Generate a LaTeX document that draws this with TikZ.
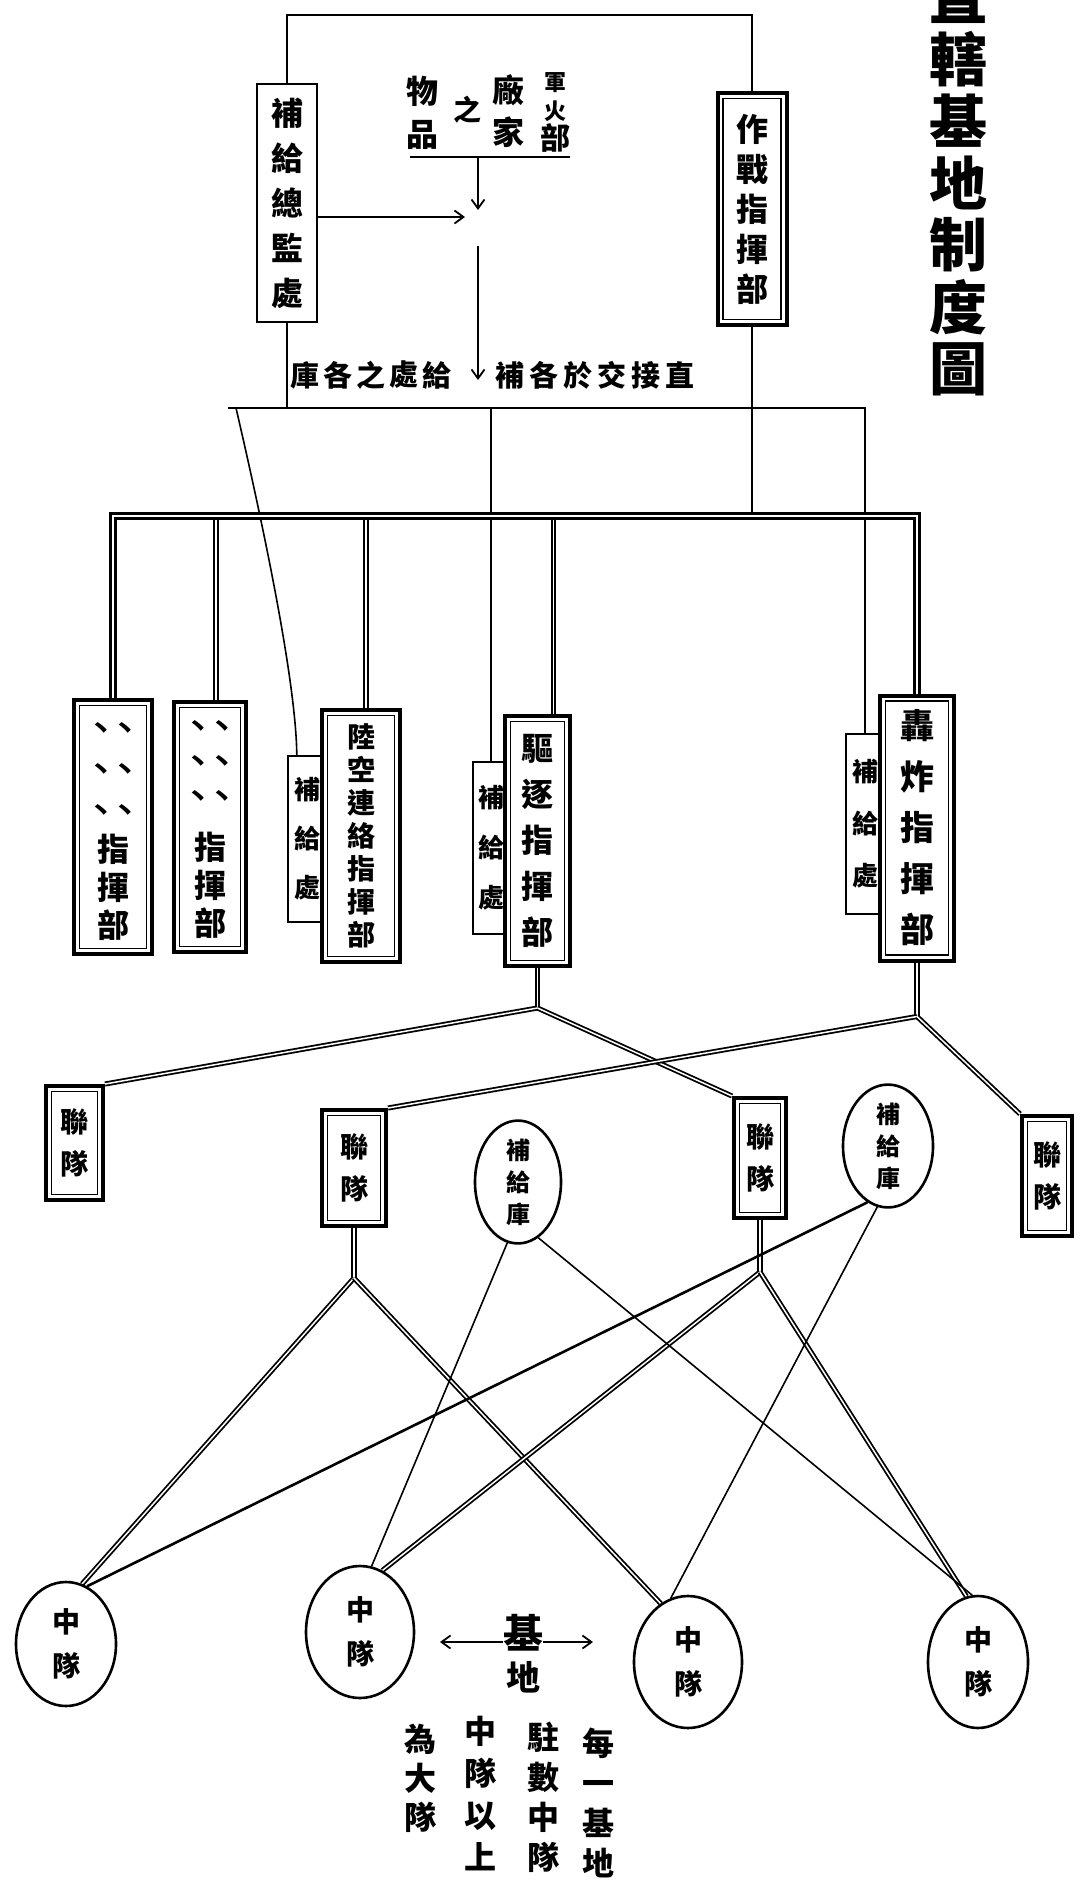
\documentclass[tikz,border=0pt]{standalone}
\usepackage{fontspec}
\newfontfamily\cjk{Noto Sans CJK TC}
\usetikzlibrary{shapes.geometric,arrows.meta,backgrounds}

\tikzset{
  zh/.style 2 args={font=\cjk\bfseries\fontsize{#1}{#2}\selectfont, align=center, inner sep=0pt},
  cmdbox/.style={draw, fill=white, line width=4pt, inner sep=0pt,
    path picture={\draw[line width=1.3pt]
      ([shift={(5.5pt,-5.5pt)}]path picture bounding box.north west) rectangle
      ([shift={(-5.5pt,5.5pt)}]path picture bounding box.south east);}},
  supbox/.style={draw, fill=white, line width=2.4pt, inner sep=0pt},
  roundnode/.style={draw, fill=white, ellipse, line width=2.6pt, inner sep=0pt},
  link/.style={line width=1.6pt},
  heavy/.style={line width=2.6pt},
  dbl/.style={double, line width=1.8pt, double distance=1.5pt},
  bar/.style={double, line width=3.4pt, double distance=1.2pt},
  arr/.style={line width=1.8pt, -{Straight Barb[length=9pt,width=13pt]}},
}

\begin{document}
\begin{tikzpicture}[x=1pt,y=-1pt]
\path[use as bounding box] (0,0) rectangle (1081,1882);
\clip (0,0) rectangle (1081,1882);

% title column
\foreach \c [count=\i from 0] in {直,轄,基,地,制,度,圖}
  \node[zh={58}{58}] (title\i) at (958,{-3+62*\i}) {\c};

% headquarters
\node[supbox, minimum width=60pt, minimum height=238pt, zh={32}{45}] (supHQ) at (287,203) {補\\給\\總\\監\\處};
\node[cmdbox, minimum width=69pt, minimum height=232pt, zh={32}{40}] (opHQ) at (752,209) {作\\戰\\指\\揮\\部};

% goods from munitions makers
\node[zh={32}{43}] (wupin) at (422,113) {物\\品};
\node[zh={28}{28}] (zhi) at (467,110) {之};
\node[zh={32}{42}] (changjia) at (508,111) {廠\\家};
\node[zh={22}{22}] (jun) at (555,83) {軍};
\node[zh={22}{22}] (huo) at (555,111) {火};
\node[zh={30}{30}] (bu) at (555,138) {部};

% delivery note
\foreach \c [count=\i from 0] in {庫,各,之,處,給}
  \node[zh={29}{29}] (rl\i) at ({305+33*\i},375) {\c};
\foreach \c [count=\i from 0] in {補,各,於,交,接,直}
  \node[zh={29}{29}] (rr\i) at ({510+34*\i},375) {\c};

% command posts and their supply offices
\node[cmdbox, minimum width=78pt, minimum height=254pt] (cmdA) at (113,827) {};
\foreach \y [count=\i] in {730,771,812}
  \node[zh={24}{24}] (dA\i) at (113,\y) {丶丶};
\node[zh={32}{38}] (tA) at (113,887) {指\\揮\\部};

\node[cmdbox, minimum width=72pt, minimum height=250pt] (cmdB) at (210,827) {};
\foreach \y [count=\i] in {728,763,798}
  \node[zh={24}{24}] (dB\i) at (210,\y) {丶丶};
\node[zh={32}{38}] (tB) at (210,885) {指\\揮\\部};

\node[supbox, minimum width=38pt, minimum height=166pt, zh={26}{49}] (supA) at (307,839) {補\\給\\處};
\node[cmdbox, minimum width=78pt, minimum height=252pt, zh={28}{33}] (cmdC) at (361,836) {陸\\空\\連\\絡\\指\\揮\\部};

\node[supbox, minimum width=36pt, minimum height=172pt, zh={26}{50}] (supB) at (491,848) {補\\給\\處};
\node[cmdbox, minimum width=65pt, minimum height=250pt, zh={32}{46}] (cmdD) at (537.5,841) {驅\\逐\\指\\揮\\部};

\node[supbox, minimum width=38pt, minimum height=180pt, zh={26}{52}] (supC) at (865,824) {補\\給\\處};
\node[cmdbox, minimum width=74pt, minimum height=265pt, zh={34}{51}] (cmdE) at (917,828) {轟\\炸\\指\\揮\\部};

% regiments
\node[cmdbox, minimum width=57pt, minimum height=114pt, zh={28}{42}] (regA) at (74.5,1143) {聯\\隊};
\node[cmdbox, minimum width=64pt, minimum height=116pt, zh={28}{42}] (regB) at (354,1168) {聯\\隊};
\node[cmdbox, minimum width=52pt, minimum height=120pt, zh={28}{42}] (regC) at (760,1158) {聯\\隊};
\node[cmdbox, minimum width=50pt, minimum height=120pt, zh={28}{42}] (regD) at (1047,1176) {聯\\隊};

% supply depots
\node[roundnode, minimum width=86pt, minimum height=120pt, zh={24}{32}] (depE) at (518,1182) {補\\給\\庫};
\node[roundnode, minimum width=90pt, minimum height=120pt, zh={24}{32}] (depF) at (888,1146) {補\\給\\庫};

% squadrons
\node[roundnode, minimum width=100pt, minimum height=124pt, zh={28}{44}] (sqG) at (66,1644) {中\\隊};
\node[roundnode, minimum width=108pt, minimum height=132pt, zh={28}{44}] (sqH) at (360,1632) {中\\隊};
\node[roundnode, minimum width=108pt, minimum height=132pt, zh={28}{44}] (sqI) at (688,1662) {中\\隊};
\node[roundnode, minimum width=100pt, minimum height=132pt, zh={28}{44}] (sqK) at (978,1662) {中\\隊};

% base
\node[zh={40}{40}] (ji) at (523,1633) {基};
\node[zh={34}{34}] (di) at (523,1677) {地};

% note at the foot
\node[zh={32}{40}] (noteA) at (598,1803) {每\\一\\基\\地};
\node[zh={32}{40}] (noteB) at (543,1797) {駐\\數\\中\\隊};
\node[zh={32}{42}] (noteC) at (480,1794) {中\\隊\\以\\上};
\node[zh={32}{39}] (noteD) at (420,1778) {為\\大\\隊};

% coordinates for the free ends of lines
\coordinate (topY) at (0,15);
\coordinate (ul0) at (410,157);
\coordinate (ul1) at (570,157);
\coordinate (ulA) at (478,157);
\coordinate (tip1) at (478,210);
\coordinate (tip2) at (465,217);
\coordinate (lA) at (478,246);
\coordinate (lB) at (478,380);
\coordinate (hl0) at (228,408);
\coordinate (sl0) at (236,408);
\coordinate (barY) at (500,516);
\coordinate (bB) at ([xshift=6pt]cmdB.north);
\coordinate (bC) at ([xshift=5pt]cmdC.north);
\coordinate (bD) at ([xshift=16pt]cmdD.north);
\coordinate (J1) at ([yshift=-40pt]cmdD.south);
\coordinate (J2) at ([yshift=-54pt]cmdE.south);
\coordinate (J3) at ([yshift=-50pt]regB.south);
\coordinate (J4) at ([yshift=-52pt]regC.south);
\coordinate (baseL) at (440,1642);
\coordinate (baseR) at (593,1642);

\begin{scope}[on background layer]
  \fill[white] (0,0) rectangle (1081,1882);
  % upper frame
  \draw[heavy] (supHQ.north) -- (supHQ.north |- topY) -- (opHQ.north |- topY) -- (opHQ.north);
  \draw[link] (ul0) -- (ul1);
  \draw[arr] (ulA) -- (tip1);
  \draw[arr] ([yshift=-14pt]supHQ.east) -- (tip2);
  \draw[arr] (lA) -- (lB);
  % supply distribution line
  \draw[link] (supHQ.south) -- (supHQ.south |- hl0);
  \draw[link] (hl0) -| (supC.north);
  \draw[link] (supB.north |- hl0) -- (supB.north);
  \draw[link] (sl0) .. controls (262,520) and (296,680) .. ([xshift=10pt]supA.north west);
  % command bar
  \draw[link] (opHQ.south) -- (opHQ.south |- barY);
  \draw[dbl] (bB) -- (bB |- barY);
  \draw[dbl] (bC) -- (bC |- barY);
  \draw[dbl] (bD) -- (bD |- barY);
  \draw[bar] (cmdA.north) |- (barY) -| (cmdE.north);
  % regiments
  \draw[dbl] (cmdD.south) -- (J1);
  \draw[dbl] (cmdE.south) -- (J2);
  \draw[dbl] (J1) -- (regA.north east);
  \draw[dbl] (J1) -- (regC.north west);
  \draw[dbl] (J2) -- (regB.north east);
  \draw[dbl] (J2) -- (regD.north west);
  % squadrons
  \draw[dbl] (regB.south) -- (J3);
  \draw[dbl] (regC.south) -- (J4);
  \draw[dbl] (J3) -- (sqG.75);
  \draw[dbl] (J3) -- (sqI.115);
  \draw[dbl] (J4) -- (sqH.70);
  \draw[dbl] (J4) -- (sqK.100);
  % supply depots to squadrons
  \draw[link] (depE.260) -- (sqH.80);
  \draw[link] (depE.290) -- (sqK.95);
  \draw[heavy] (depF.250) -- (sqG.70);
  \draw[link] (depF.260) -- (sqI.105);
  % base arrows
  \draw[arr] ([yshift=-9pt]ji.west) -- (baseL);
  \draw[arr] ([yshift=-9pt]ji.east) -- (baseR);
\end{scope}
\end{tikzpicture}
\end{document}
